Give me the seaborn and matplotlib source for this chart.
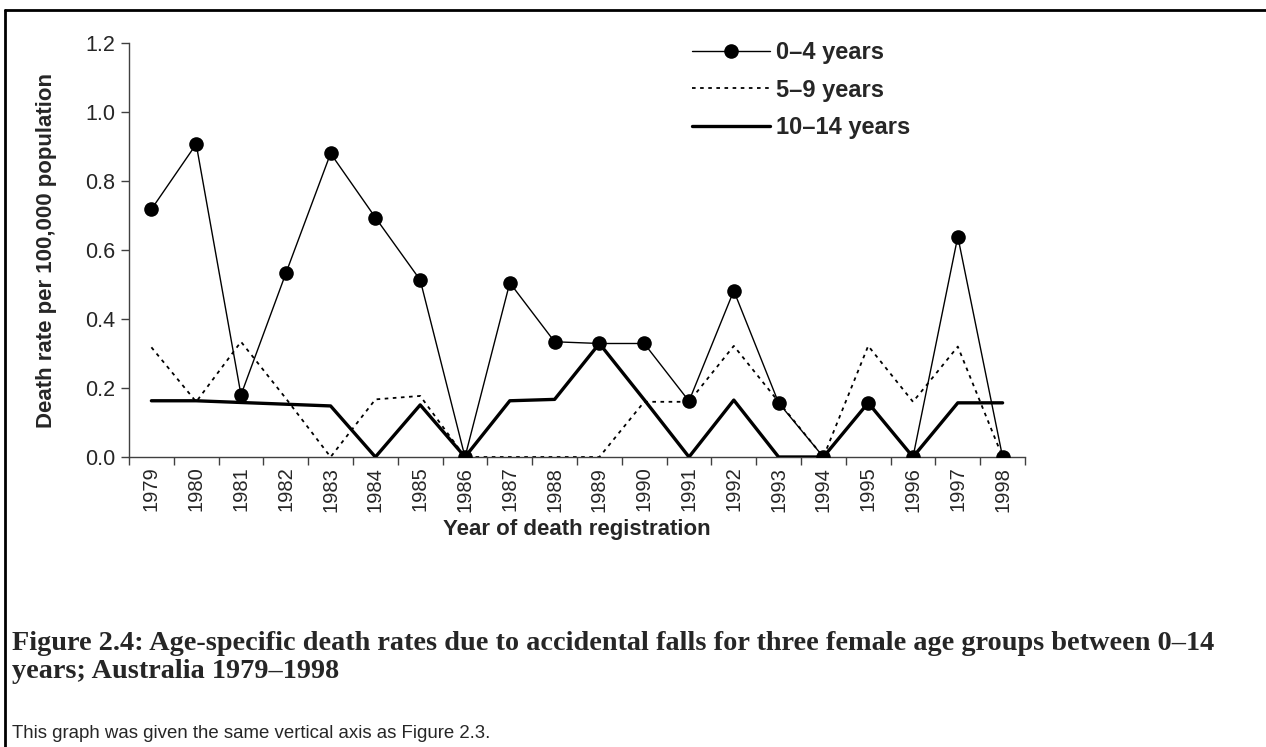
import numpy as np
import pandas as pd
import matplotlib
matplotlib.use("Agg")
import matplotlib.pyplot as plt
from matplotlib.lines import Line2D
from matplotlib.ticker import FixedLocator, FormatStrFormatter
import seaborn as sns

sns.set_theme(style="white")
plt.rcParams['font.family'] = ['Liberation Sans', 'DejaVu Sans']

# ---- data ----
years = list(range(1979, 1999))
rate_0_4 = [0.718, 0.907, 0.180, 0.532, 0.880, 0.694, 0.513, 0.0, 0.505, 0.334,
            0.329, 0.329, 0.162, 0.482, 0.157, 0.0, 0.157, 0.0, 0.639, 0.0]
rate_5_9 = [0.318, 0.160, 0.334, 0.170, 0.0, 0.167, 0.177, 0.0, 0.0, 0.0,
            0.0, 0.160, 0.160, 0.322, 0.160, 0.0, 0.322, 0.160, 0.320, 0.0]
rate_10_14 = [0.163, 0.163, 0.158, 0.153, 0.148, 0.0, 0.151, 0.0, 0.163, 0.167,
              0.329, 0.166, 0.0, 0.165, 0.0, 0.0, 0.157, 0.0, 0.157, 0.157]
groups = ['0–4 years', '5–9 years', '10–14 years']
y_ticks = [0.0, 0.2, 0.4, 0.6, 0.8, 1.0, 1.2]

df = pd.DataFrame({'year': years * 3,
                   'rate': rate_0_4 + rate_5_9 + rate_10_14,
                   'group': [g for g in groups for _ in years]})

W, H = 1266, 747
fig = plt.figure(figsize=(W / 100, H / 100), dpi=100)
ax = fig.add_axes([129 / W, 1 - 457 / H, (1025 - 129) / W, (457 - 43) / H])

styles = {
    '0–4 years': dict(lw=1.0, ls='-', marker='o', ms=10.5, zorder=4),
    '5–9 years': dict(lw=1.3, ls=(0, (2, 2.5)), marker=None, zorder=2),
    '10–14 years': dict(lw=2.4, ls='-', marker=None, zorder=3),
}
# draw in order so 0-4 sits on top
for g in ['5–9 years', '10–14 years', '0–4 years']:
    st = styles[g]
    sns.lineplot(data=df[df.group == g], x='year', y='rate', ax=ax, color='black',
                 linewidth=st['lw'], linestyle=st['ls'], marker=st['marker'],
                 markersize=st.get('ms', 0), markeredgewidth=0, label=g,
                 zorder=st['zorder'], legend=False)

ax.set_xlim(1978.5, 1998.5)
ax.set_ylim(0, 1.2)
ax.set_yticks(y_ticks)
ax.yaxis.set_major_formatter(FormatStrFormatter('%.1f'))
ax.set_xticks(years)
ax.set_xticklabels([str(y) for y in years], rotation=90)
ax.xaxis.set_minor_locator(FixedLocator(np.arange(1978.5, 1999, 1.0)))
ax.tick_params(axis='x', which='major', length=0, pad=7, labelsize=14.5)
ax.tick_params(axis='x', which='minor', length=6, width=1, color='#404040', direction='out', bottom=True)
ax.tick_params(axis='y', length=6, width=1, color='#404040', direction='out', left=True, labelsize=15.5, pad=4)

for s in ['top', 'right']:
    ax.spines[s].set_visible(False)
for s in ['left', 'bottom']:
    ax.spines[s].set_color('#404040')
    ax.spines[s].set_linewidth(1.0)

ax.set_xlabel('Year of death registration', fontsize=16, fontweight='bold')
ax.set_ylabel('Death rate per 100,000 population', fontsize=16, fontweight='bold')
ax.xaxis.set_label_coords(0.5, (457 - 529) / 414)
ax.yaxis.set_label_coords((47 - 129) / 896, 0.5)
ax.xaxis.label.set_va('center')
ax.yaxis.label.set_va('center')

handles = [Line2D([], [], color='black', lw=styles[g]['lw'], ls=styles[g]['ls'],
                  marker=styles[g]['marker'], ms=styles[g].get('ms', 0), markeredgewidth=0)
           for g in groups]
leg = fig.legend(handles, groups, loc='upper left', bbox_to_anchor=(692 / W, 1 - 41 / H),
                 frameon=False, borderpad=0, borderaxespad=0, handlelength=3.3,
                 handletextpad=0.25, labelspacing=0.62, markerscale=1.0,
                 prop={'weight': 'bold', 'size': 17})

# caption and note
serif = ['Liberation Serif', 'DejaVu Serif']
fig.text(12 / W, 1 - 650 / H, 'Figure 2.4: Age-specific death rates due to accidental falls for three female age groups between 0–14',
         family=serif, fontweight='bold', fontsize=20.3, va='baseline', ha='left')
fig.text(12 / W, 1 - 678 / H, 'years; Australia 1979–1998',
         family=serif, fontweight='bold', fontsize=20.3, va='baseline', ha='left')
fig.text(12 / W, 1 - 738 / H, 'This graph was given the same vertical axis as Figure 2.3.',
         fontsize=13.4, va='baseline', ha='left')

# page frame (left and top edges)
fig.add_artist(Line2D([5 / W, 5 / W], [0, 1 - 10 / H], color='black', lw=2, transform=fig.transFigure))
fig.add_artist(Line2D([5 / W, 1], [1 - 10 / H, 1 - 10 / H], color='black', lw=2, transform=fig.transFigure))

fig.savefig('out.png', dpi=100)
